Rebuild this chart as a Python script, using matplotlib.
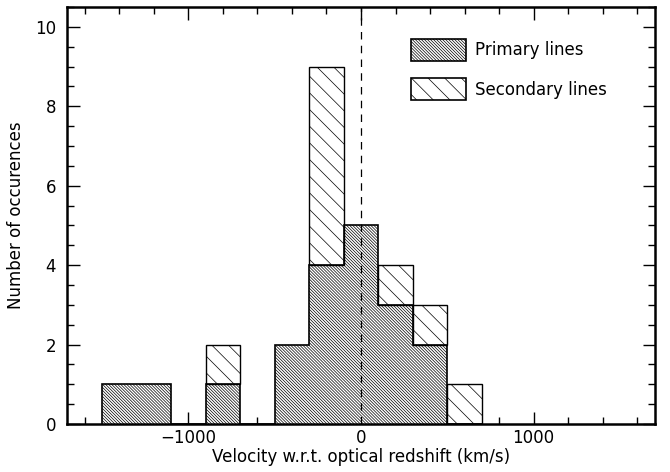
import matplotlib
matplotlib.use("Agg")
import matplotlib.pyplot as plt
import numpy as np
from matplotlib.ticker import MultipleLocator
from matplotlib.patches import Patch

bin_centers = [-1400, -1200, -1000, -800, -600, -400, -200, 0, 200, 400, 600]
primary =     [1, 1, 0, 1, 0, 2, 4, 5, 3, 2, 0]
secondary =   [0, 0, 0, 1, 0, 0, 5, 0, 1, 1, 1]
bin_width = 200

plt.rcParams['font.family'] = ['DejaVu Sans']
plt.rcParams['hatch.linewidth'] = 0.5

FS = 12

fig = plt.figure(figsize=(6.7, 4.72), dpi=100)
ax = fig.add_axes([67/670, 1-424/472, 588/670, 417/472])

prim = np.array(primary)
sec = np.array(secondary)
x = np.array(bin_centers)
edges = np.append(x - bin_width/2, x[-1] + bin_width/2)

ax.stairs(prim, edges, fill=True, facecolor='white', edgecolor='black',
          hatch='\\' * 11, linewidth=0, zorder=2)
ax.stairs(prim, edges, fill=False, edgecolor='black', linewidth=1.2, zorder=3)
ms = sec > 0
ax.bar(x[ms], sec[ms], bottom=prim[ms], width=bin_width, color='white', edgecolor='black',
       hatch='\\\\', linewidth=1.0, zorder=2)

h1 = Patch(facecolor='white', edgecolor='black', hatch='\\' * 11, linewidth=1.2)
h2 = Patch(facecolor='white', edgecolor='black', hatch='\\\\', linewidth=1.2)

ax.axvline(0, color='black', linestyle=(0, (6, 5)), linewidth=0.9, zorder=4)

ax.set_xlim(-1704, 1704)
ax.set_ylim(0, 10.5)
ax.xaxis.set_minor_locator(MultipleLocator(200))
ax.yaxis.set_major_locator(MultipleLocator(2))
ax.yaxis.set_minor_locator(MultipleLocator(0.5))
ax.tick_params(which='both', direction='in', top=True, right=True, labelsize=FS)
ax.tick_params(which='major', length=9, width=1)
ax.tick_params(which='minor', length=5, width=1)
ax.tick_params(axis='y', which='major', pad=8)
for s in ax.spines.values():
    s.set_linewidth(1.8)

ax.set_xticks([-1000, 0, 1000])
ax.set_xticklabels(['\u22121000', '0', '1000'])

ax.set_xlabel('Velocity w.r.t. optical redshift (km/s)', fontsize=FS, labelpad=1)
ax.set_ylabel('Number of occurences', fontsize=FS, labelpad=7)

leg = ax.legend([h1, h2], ['Primary lines', 'Secondary lines'],
                loc='upper left', bbox_to_anchor=(0.56, 0.96), frameon=False,
                handlelength=3.3, handleheight=1.7, labelspacing=1.0, fontsize=FS,
                handletextpad=0.5)

fig.savefig('out.png', dpi=100)
